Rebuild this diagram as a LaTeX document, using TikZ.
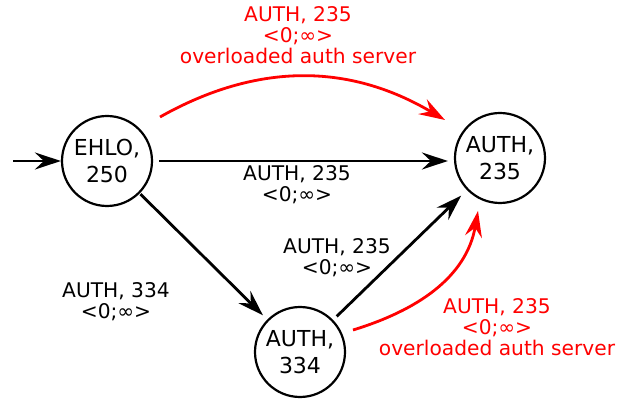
\documentclass[tikz,border=0pt]{standalone}
\usepackage{fontspec}
\setmainfont{DejaVu Sans}
\usetikzlibrary{arrows.meta,calc}
\begin{document}
\begin{tikzpicture}[x=1pt,y=1pt,
  state/.style={circle,draw=black,line width=2.2pt,minimum size=90pt,inner sep=0pt,align=center,font=\fontsize{22}{26.5}\selectfont},
  lbl/.style={align=center,font=\fontsize{20.2}{21}\selectfont},
  edge/.style={line width=2.8pt,-{Stealth[length=26pt,width=17pt,inset=9pt]}},
  rededge/.style={edge,draw=red},
  redlbl/.style={lbl,text=red}]
\useasboundingbox (0,0) rectangle (618,404);
\node[state] (ehlo) at (107,243) {EHLO,\\250};
\node[state] (a235) at (500,246) {AUTH,\\235};
\node[state] (a334) at (300,52) {AUTH,\\334};
\coordinate (init) at (13,243);
\coordinate (rts) at (160,287);
\coordinate (rte) at (445,284);
\coordinate (rbs) at (353,74);
\coordinate (rbe) at (478,193);
\draw[edge] (init) -- (ehlo);
\draw[edge,shorten <=6pt,shorten >=6pt] (ehlo.east) -- (ehlo.east -| a235.west);
\draw[edge,shorten <=1pt,shorten >=6pt] (ehlo) -- (a334);
\draw[edge,shorten <=5pt,shorten >=8pt] (a334) -- (a235);
\draw[rededge] (rts) to[bend left=30] (rte);
\draw[rededge] (rbs) to[out=17,in=-100] (rbe);
\node[redlbl] (l1) at (298,369) {AUTH, 235\\<0;∞>\\overloaded auth server};
\node[lbl] (l2) at (297,219) {AUTH, 235\\<0;∞>};
\node[lbl] (l3) at (116,102) {AUTH, 334\\<0;∞>};
\node[lbl] (l4) at (337,146) {AUTH, 235\\<0;∞>};
\node[redlbl] (l5) at (497,77) {AUTH, 235\\<0;∞>\\overloaded auth server};
\end{tikzpicture}
\end{document}
